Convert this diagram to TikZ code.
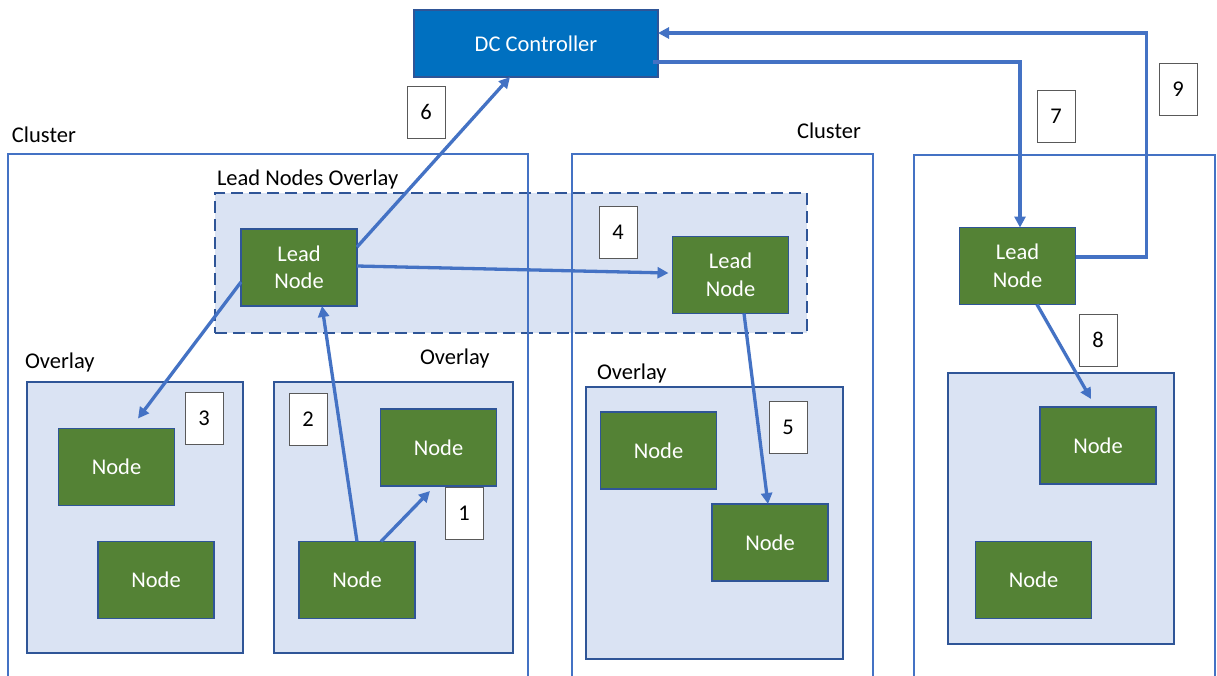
\documentclass[tikz,border=0pt]{standalone}
\usepackage{fontspec}
\setmainfont{Carlito}
\usetikzlibrary{arrows.meta}
\definecolor{arrowblue}{HTML}{4472C4}
\definecolor{edgeblue}{HTML}{2F5597}
\definecolor{dcblue}{HTML}{0070C0}
\definecolor{nodegreen}{HTML}{548235}
\definecolor{overlayfill}{HTML}{DAE3F3}
\definecolor{numgray}{HTML}{595959}
\begin{document}
\begin{tikzpicture}[x=1pt,y=-1pt,
  every node/.style={font=\fontsize{22.5}{27.5}\selectfont, inner sep=0pt, outer sep=0pt},
  clusterbox/.style={draw=arrowblue, line width=1.4pt, anchor=north west},
  overlaybox/.style={draw=edgeblue, fill=overlayfill, line width=1.4pt, anchor=north west},
  leadoverlay/.style={draw=edgeblue, fill=overlayfill, line width=1.4pt, anchor=north west, dash pattern=on 12pt off 6pt},
  greennode/.style={draw=edgeblue, fill=nodegreen, line width=1.4pt, text=white, minimum width=116pt, minimum height=77pt, align=center},
  numbox/.style={draw=numgray, fill=white, line width=1pt, minimum width=38pt, minimum height=52pt},
  title/.style={anchor=base west},
  flow/.style={draw=arrowblue, line width=3.3pt, -{Triangle[length=11pt,width=11pt]}},
]
\clip (0,0) rectangle (1217,675);
\fill[white] (0,0) rectangle (1217,675);

% lead nodes overlay (behind cluster frames)
\node[leadoverlay, minimum width=592pt, minimum height=140pt] (lno) at (215,193) {};

% clusters
\node[clusterbox, minimum width=520pt, minimum height=560pt] (cl1) at (8,154) {};
\node[clusterbox, minimum width=301pt, minimum height=560pt] (cl2) at (572,154) {};
\node[clusterbox, minimum width=301pt, minimum height=560pt] (cl3) at (914,155) {};

% overlays
\node[overlaybox, minimum width=216pt, minimum height=271pt] (ov1) at (27,382) {};
\node[overlaybox, minimum width=239pt, minimum height=271pt] (ov2) at (274,382) {};
\node[overlaybox, minimum width=257pt, minimum height=272pt] (ov3) at (586,387) {};
\node[overlaybox, minimum width=226pt, minimum height=271pt] (ov4) at (948,373) {};

% titles
\node[title] (tcl1) at (12,142) {Cluster};
\node[title] (tcl2) at (797,138) {Cluster};
\node[title] (tlno) at (217,185) {Lead Nodes Overlay};
\node[title] (tov1) at (25,368) {Overlay};
\node[title] (tov2) at (420,364) {Overlay};
\node[title] (tov3) at (597,379) {Overlay};

% DC controller
\node[draw=edgeblue, fill=dcblue, line width=1.4pt, text=white, minimum width=244pt, minimum height=67pt] (dc) at (536,43.5) {DC Controller};

% lead nodes
\node[greennode] (lead1) at (299,267.5) {Lead\\Node};
\node[greennode] (lead2) at (730.5,275) {Lead\\Node};
\node[greennode] (lead3) at (1017.5,266) {Lead\\Node};

% nodes
\node[greennode] (nA) at (116.5,467) {Node};
\node[greennode] (nB) at (156,580) {Node};
\node[greennode] (nC) at (438.5,447.5) {Node};
\node[greennode] (nD) at (357,580) {Node};
\node[greennode] (nE) at (658.5,450.5) {Node};
\node[greennode] (nF) at (770,542.5) {Node};
\node[greennode] (nG) at (1098,445.5) {Node};
\node[greennode] (nH) at (1033.5,580) {Node};

% number boxes
\node[numbox] (b1) at (464,513) {1};
\node[numbox] (b2) at (308,419) {2};
\node[numbox] (b3) at (204,418) {3};
\node[numbox] (b4) at (618,232) {4};
\node[numbox] (b5) at (788,427) {5};
\node[numbox] (b6) at (426,112) {6};
\node[numbox] (b7) at (1056,116) {7};
\node[numbox] (b8) at (1098,340) {8};
\node[numbox] (b9) at (1178,89) {9};

% connectors
\draw[flow] ([xshift=24pt]nD.north) -- ([xshift=-8.5pt,yshift=-5pt]nC.south);
\draw[flow] (nD.north) -- ([xshift=23pt]lead1.south);
\draw[flow] ([yshift=-14.5pt]lead1.west) -- ([xshift=21.5pt,yshift=10pt]nA.north);
\draw[flow] ([yshift=1.5pt]lead1.east) -- ([xshift=-4pt,yshift=2pt]lead2.west);
\draw[flow] ([xshift=13.5pt]lead2.south) -- ([xshift=-2pt]nF.north);
\draw[flow] ([yshift=20.5pt]lead1.east) -- ([xshift=-26pt]dc.south);
\draw[flow] ([xshift=-5pt,yshift=-18.5pt]dc.east) -| ([xshift=2.5pt]lead3.north);
\draw[flow] ([xshift=19.5pt]lead3.south) -- ([xshift=-7pt,yshift=8pt]nG.north);
\draw[flow] ([yshift=9pt]lead3.east) -- ++(71,0) |- ([yshift=10.5pt]dc.east);
\end{tikzpicture}
\end{document}
